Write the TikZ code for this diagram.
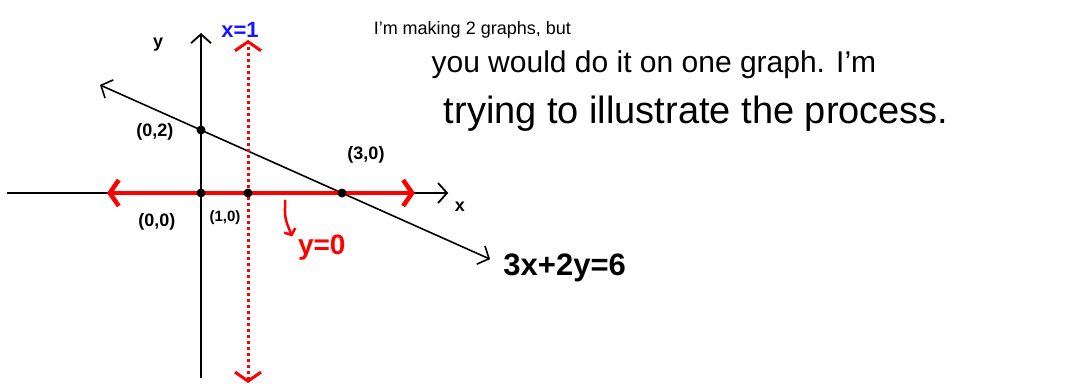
\documentclass[tikz,border=0pt]{standalone}
\usepackage{fontspec}
\setmainfont{Liberation Sans}
\usetikzlibrary{arrows.meta}
\definecolor{inkred}{RGB}{255,0,0}
\definecolor{inkblue}{RGB}{20,20,255}

\begin{document}
\begin{tikzpicture}[x=47pt, y=31.5pt,
    barb/.style={{Straight Barb[length=9pt, width=20pt]}-{Straight Barb[length=9pt, width=20pt]}},
    redbarb/.style={{Straight Barb[length=9pt, width=26pt]}-{Straight Barb[length=9pt, width=26pt]}},
    dot/.style={circle, fill=black, inner sep=0pt, minimum size=9pt},
    lbl/.style={font=\bfseries\fontsize{18}{22}\selectfont},
    note/.style={anchor=base west}]
  \useasboundingbox (-4.277,-6.159) rectangle (18.68,6.127);
  % axes
  \draw[line width=1.8pt, -{Straight Barb[length=9pt, width=20pt]}] (-4.13,0) -- (5.26,0);
  \draw[line width=1.8pt, -{Straight Barb[length=9pt, width=20pt]}] (0,-5.87) -- (0,5.08);
  \node[font=\bfseries\fontsize{18}{20}\selectfont] (xlab) at (5.51,-0.44) {x};
  \node[font=\bfseries\fontsize{18}{20}\selectfont] (ylab) at (-0.91,4.70) {y};
  % the line 3x+2y=6
  \draw[line width=1.6pt, barb] (-2.15,3.43) -- (6.15,-2.1);
  \node[lbl, anchor=west, font=\bfseries\fontsize{31}{34}\selectfont] (eq) at (6.36,-2.38) {3x+2y=6};
  % y=0 and x=1 in red
  \draw[inkred, line width=4.5pt, redbarb] (-2,0) -- (4.55,0);
  \draw[inkred, line width=3pt, dash pattern=on 3pt off 3pt, redbarb] (1,-6.03) -- (1,4.86);
  \node[inkblue, font=\bfseries\fontsize{22}{24}\selectfont] (xone) at (0.83,5.17) {x=1};
  \node[inkred, font=\bfseries\fontsize{28}{30}\selectfont] (yzero) at (2.57,-1.75) {y=0};
  \draw[inkred, line width=2.5pt, -{Straight Barb[length=5pt, width=12pt]}]
    (1.79,-0.22) .. controls (1.78,-0.8) .. (1.94,-1.38);
  % intercepts
  \node[dot] (o) at (0,0) {};
  \node[dot] (a) at (1,0) {};
  \node[dot] (b) at (3,0) {};
  \node[dot] (c) at (0,2) {};
  \node[lbl] (olab) at (-0.94,-0.92) {(0,0)};
  \node[lbl, font=\bfseries\fontsize{15}{18}\selectfont] (alab) at (0.51,-0.79) {(1,0)};
  \node[lbl] (blab) at (3.51,1.21) {(3,0)};
  \node[lbl] (clab) at (-0.98,1.94) {(0,2)};
  % note
  \node[note, font=\fontsize{18}{20}\selectfont] (n1) at (3.6,5.02) {I'm making 2 graphs, but};
  \node[note, font=\fontsize{30}{34}\selectfont] (n2) at (4.83,3.84) {you would do it on one graph. I'm};
  \node[note, font=\fontsize{38}{42}\selectfont] (n3) at (5.09,2.22) {trying to illustrate the process.};
\end{tikzpicture}
\end{document}
